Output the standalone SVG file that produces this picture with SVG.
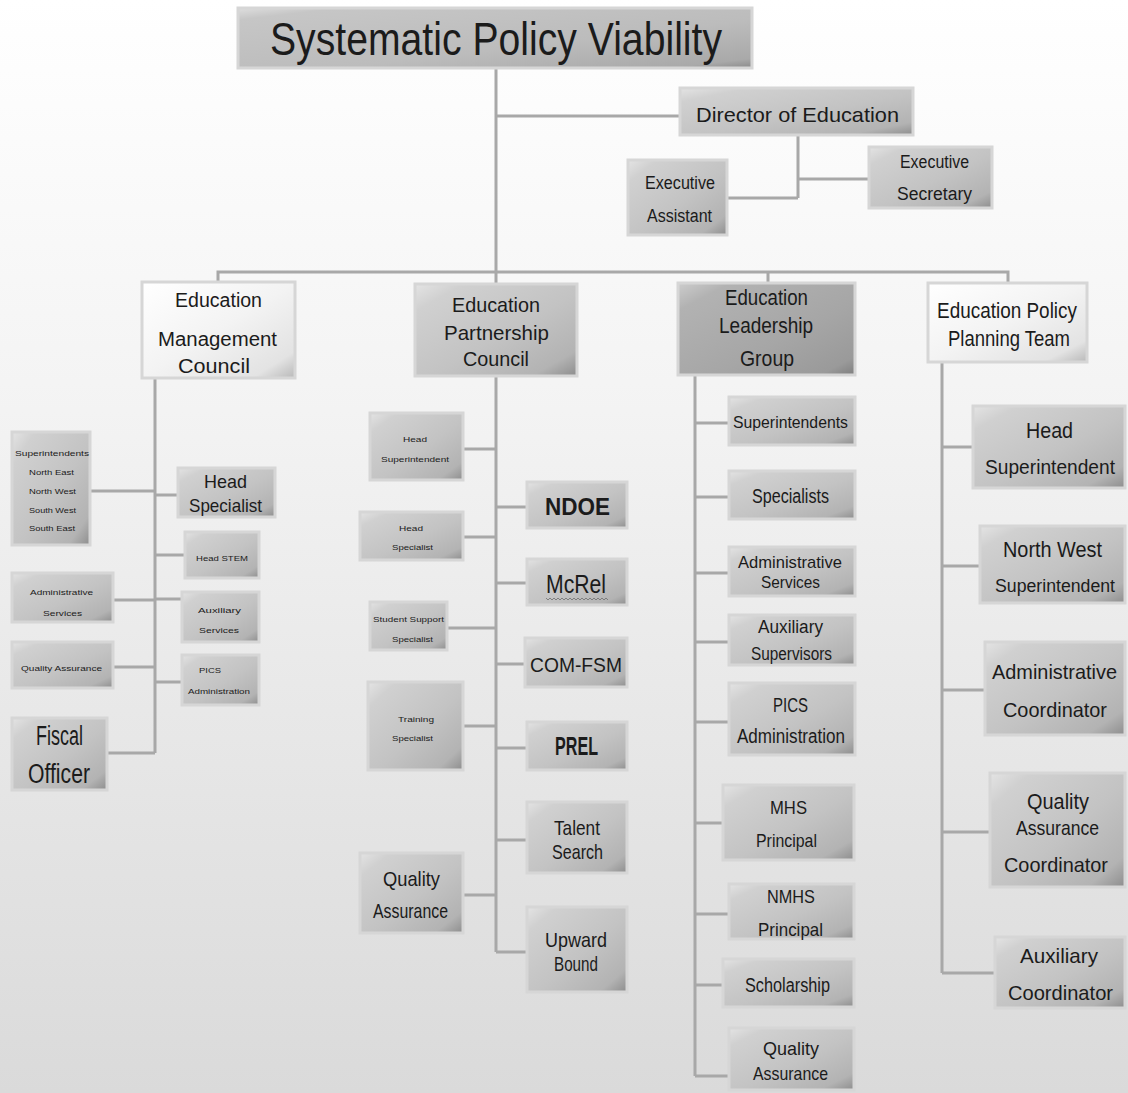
<svg xmlns="http://www.w3.org/2000/svg" width="1128" height="1093" viewBox="0 0 1128 1093">
<style>
.b{stroke:#d6d6d6;stroke-width:3}
.m{fill:url(#gm)}
.l{fill:url(#gl)}
.d{fill:url(#gd)}
.t{fill:url(#gt)}
text{font-family:"Liberation Sans",Arial,sans-serif;fill:#1b1b1b}
.bold{font-weight:bold}
#connectors path{fill:none;stroke:#a8a8a8;stroke-width:3}
</style>
<defs>
<linearGradient id="bg" x1="0" y1="0" x2="0" y2="1">
<stop offset="0" stop-color="#ffffff"/>
<stop offset="0.35" stop-color="#f4f4f4"/>
<stop offset="1" stop-color="#dadada"/>
</linearGradient>
<linearGradient id="gm" x1="0" y1="0" x2="1" y2="1">
<stop offset="0" stop-color="#e4e4e4"/>
<stop offset="0.15" stop-color="#d0d0d0"/>
<stop offset="0.55" stop-color="#c3c3c3"/>
<stop offset="0.86" stop-color="#b3b3b3"/>
<stop offset="0.93" stop-color="#a0a0a0"/>
<stop offset="1" stop-color="#8c8c8c"/>
</linearGradient>
<linearGradient id="gl" x1="0" y1="0" x2="1" y2="1">
<stop offset="0" stop-color="#ffffff"/>
<stop offset="0.5" stop-color="#f3f3f3"/>
<stop offset="0.86" stop-color="#e3e3e3"/>
<stop offset="1" stop-color="#b8b8b8"/>
</linearGradient>
<linearGradient id="gd" x1="0" y1="0" x2="1" y2="1">
<stop offset="0" stop-color="#cdcdcd"/>
<stop offset="0.15" stop-color="#b2b2b2"/>
<stop offset="0.6" stop-color="#a6a6a6"/>
<stop offset="0.9" stop-color="#9a9a9a"/>
<stop offset="1" stop-color="#7e7e7e"/>
</linearGradient>
<linearGradient id="gt" x1="0" y1="0" x2="1" y2="1">
<stop offset="0" stop-color="#dedede"/>
<stop offset="0.1" stop-color="#c6c6c6"/>
<stop offset="0.6" stop-color="#bcbcbc"/>
<stop offset="0.92" stop-color="#a9a9a9"/>
<stop offset="1" stop-color="#8a8a8a"/>
</linearGradient>
</defs>
<rect x="0" y="0" width="1128" height="1093" fill="url(#bg)"/>

<g id="connectors">
<path d="M496,68 V952"/>
<path d="M496,116 H680"/>
<path d="M798,135 V198 M798,179 H869 M727,198 H798"/>
<path d="M218,282 V272 H1008 V283 M768,272 V283"/>
<path d="M155,378 V753 M90,491 H155 M155,495 H178 M155,555 H185 M113,600 H155 M155,599 H182 M113,667 H155 M155,682 H182 M107,753 H155"/>
<path d="M463,449 H496 M496,507 H527 M463,537 H496 M496,583 H527 M447,628 H496 M496,664 H525 M463,726 H496 M496,748 H527 M496,840 H527 M463,895 H496 M496,952 H527"/>
<path d="M695,375 V1076 M695,423 H729 M695,497 H729 M695,573 H729 M695,642 H729 M695,722 H729 M695,823 H723 M695,914 H729 M695,985 H723 M695,1076 H729"/>
<path d="M942,362 V973 M942,447 H973 M942,566 H980 M942,690 H985 M942,832 H990 M942,973 H995"/>
</g>

<g id="title"><rect class="b t" x="238" y="8" width="514" height="60"/><text x="270" y="55" font-size="47" textLength="452" lengthAdjust="spacingAndGlyphs">Systematic Policy Viability</text></g>
<g id="director"><rect class="b m" x="680" y="88" width="233" height="47"/><text x="696" y="122" font-size="21" textLength="203" lengthAdjust="spacingAndGlyphs">Director of Education</text></g>
<g id="exec-assistant"><rect class="b m" x="628" y="160" width="99" height="75"/><text x="645" y="189" font-size="18" textLength="70" lengthAdjust="spacingAndGlyphs">Executive</text><text x="647" y="222" font-size="18" textLength="65" lengthAdjust="spacingAndGlyphs">Assistant</text></g>
<g id="exec-secretary"><rect class="b m" x="869" y="147" width="123" height="61"/><text x="900" y="168" font-size="18" textLength="69" lengthAdjust="spacingAndGlyphs">Executive</text><text x="897" y="200" font-size="18" textLength="75" lengthAdjust="spacingAndGlyphs">Secretary</text></g>

<g id="emc"><rect class="b l" x="142" y="282" width="153" height="96"/><text x="175" y="307" font-size="20" textLength="87" lengthAdjust="spacingAndGlyphs">Education</text><text x="158" y="346" font-size="20" textLength="119" lengthAdjust="spacingAndGlyphs">Management</text><text x="178" y="373" font-size="20" textLength="72" lengthAdjust="spacingAndGlyphs">Council</text></g>
<g id="epc"><rect class="b m" x="415" y="284" width="162" height="92"/><text x="452" y="312" font-size="21" textLength="88" lengthAdjust="spacingAndGlyphs">Education</text><text x="444" y="340" font-size="21" textLength="105" lengthAdjust="spacingAndGlyphs">Partnership</text><text x="463" y="366" font-size="21" textLength="66" lengthAdjust="spacingAndGlyphs">Council</text></g>
<g id="elg"><rect class="b d" x="678" y="283" width="177" height="92"/><text x="725" y="305" font-size="22" textLength="83" lengthAdjust="spacingAndGlyphs">Education</text><text x="719" y="333" font-size="22" textLength="94" lengthAdjust="spacingAndGlyphs">Leadership</text><text x="740" y="366" font-size="22" textLength="54" lengthAdjust="spacingAndGlyphs">Group</text></g>
<g id="eppt"><rect class="b l" x="928" y="283" width="159" height="79"/><text x="937" y="318" font-size="22" textLength="140" lengthAdjust="spacingAndGlyphs">Education Policy</text><text x="948" y="346" font-size="22" textLength="122" lengthAdjust="spacingAndGlyphs">Planning Team</text></g>

<g id="emc-superintendents"><rect class="b m" x="12" y="432" width="78" height="113"/><text x="15" y="456" font-size="8" textLength="74" lengthAdjust="spacingAndGlyphs">Superintendents</text><text x="29" y="475" font-size="8" textLength="45" lengthAdjust="spacingAndGlyphs">North East</text><text x="29" y="494" font-size="8" textLength="47" lengthAdjust="spacingAndGlyphs">North West</text><text x="29" y="513" font-size="8" textLength="47" lengthAdjust="spacingAndGlyphs">South West</text><text x="29" y="531" font-size="8" textLength="46" lengthAdjust="spacingAndGlyphs">South East</text></g>
<g id="emc-head-specialist"><rect class="b m" x="178" y="468" width="97" height="49"/><text x="204" y="488" font-size="19" textLength="43" lengthAdjust="spacingAndGlyphs">Head</text><text x="189" y="512" font-size="19" textLength="73" lengthAdjust="spacingAndGlyphs">Specialist</text></g>
<g id="emc-head-stem"><rect class="b m" x="185" y="532" width="74" height="46"/><text x="196" y="561" font-size="8" textLength="52" lengthAdjust="spacingAndGlyphs">Head STEM</text></g>
<g id="emc-admin"><rect class="b m" x="12" y="573" width="101" height="49"/><text x="30" y="595" font-size="8" textLength="63" lengthAdjust="spacingAndGlyphs">Administrative</text><text x="43" y="616" font-size="8" textLength="39" lengthAdjust="spacingAndGlyphs">Services</text></g>
<g id="emc-aux"><rect class="b m" x="182" y="592" width="77" height="50"/><text x="198" y="613" font-size="8" textLength="43" lengthAdjust="spacingAndGlyphs">Auxiliary</text><text x="199" y="633" font-size="8" textLength="40" lengthAdjust="spacingAndGlyphs">Services</text></g>
<g id="emc-qa"><rect class="b m" x="12" y="642" width="101" height="46"/><text x="21" y="671" font-size="8" textLength="81" lengthAdjust="spacingAndGlyphs">Quality Assurance</text></g>
<g id="emc-pics"><rect class="b m" x="182" y="655" width="77" height="50"/><text x="199" y="673" font-size="8" textLength="22" lengthAdjust="spacingAndGlyphs">PICS</text><text x="188" y="694" font-size="8" textLength="62" lengthAdjust="spacingAndGlyphs">Administration</text></g>
<g id="emc-fiscal"><rect class="b m" x="12" y="718" width="95" height="72"/><text x="36" y="745" font-size="27" textLength="47" lengthAdjust="spacingAndGlyphs">Fiscal</text><text x="28" y="783" font-size="27" textLength="62" lengthAdjust="spacingAndGlyphs">Officer</text></g>

<g id="epc-head-sup"><rect class="b m" x="370" y="413" width="93" height="67"/><text x="403" y="442" font-size="8" textLength="24" lengthAdjust="spacingAndGlyphs">Head</text><text x="381" y="462" font-size="8" textLength="68" lengthAdjust="spacingAndGlyphs">Superintendent</text></g>
<g id="epc-ndoe"><rect class="b m" x="527" y="482" width="100" height="46"/><text class="bold" x="545" y="515" font-size="24" textLength="65" lengthAdjust="spacingAndGlyphs">NDOE</text></g>
<g id="epc-head-spec"><rect class="b m" x="360" y="512" width="103" height="48"/><text x="399" y="531" font-size="8" textLength="24" lengthAdjust="spacingAndGlyphs">Head</text><text x="392" y="550" font-size="8" textLength="41" lengthAdjust="spacingAndGlyphs">Specialist</text></g>
<g id="epc-mcrel"><rect class="b m" x="527" y="559" width="100" height="46"/><text x="546" y="593" font-size="25" textLength="60" lengthAdjust="spacingAndGlyphs">McRel</text><polyline points="546,598 548,600 550,598 552,600 554,598 556,600 558,598 560,600 562,598 564,600 566,598 568,600 570,598 572,600 574,598 576,600 578,598 580,600 582,598 584,600 586,598 588,600 590,598 592,600 594,598 596,600 598,598 600,600 602,598 604,600 606,598 608,600" fill="none" stroke="#6f6f6f" stroke-width="0.8"/></g>
<g id="epc-sss"><rect class="b m" x="370" y="602" width="77" height="48"/><text x="373" y="622" font-size="8" textLength="71" lengthAdjust="spacingAndGlyphs">Student Support</text><text x="392" y="642" font-size="8" textLength="41" lengthAdjust="spacingAndGlyphs">Specialist</text></g>
<g id="epc-comfsm"><rect class="b m" x="525" y="638" width="102" height="49"/><text x="530" y="672" font-size="21" textLength="92" lengthAdjust="spacingAndGlyphs">COM-FSM</text></g>
<g id="epc-training"><rect class="b m" x="368" y="682" width="95" height="88"/><text x="398" y="722" font-size="8" textLength="36" lengthAdjust="spacingAndGlyphs">Training</text><text x="392" y="741" font-size="8" textLength="41" lengthAdjust="spacingAndGlyphs">Specialist</text></g>
<g id="epc-prel"><rect class="b m" x="527" y="722" width="100" height="48"/><text class="bold" x="555" y="755" font-size="25" textLength="43" lengthAdjust="spacingAndGlyphs">PREL</text></g>
<g id="epc-talent"><rect class="b m" x="527" y="802" width="100" height="71"/><text x="554" y="835" font-size="21" textLength="46" lengthAdjust="spacingAndGlyphs">Talent</text><text x="552" y="859" font-size="21" textLength="51" lengthAdjust="spacingAndGlyphs">Search</text></g>
<g id="epc-qa"><rect class="b m" x="360" y="853" width="103" height="80"/><text x="383" y="886" font-size="21" textLength="57" lengthAdjust="spacingAndGlyphs">Quality</text><text x="373" y="918" font-size="21" textLength="75" lengthAdjust="spacingAndGlyphs">Assurance</text></g>
<g id="epc-upward"><rect class="b m" x="527" y="907" width="100" height="85"/><text x="545" y="947" font-size="21" textLength="62" lengthAdjust="spacingAndGlyphs">Upward</text><text x="554" y="971" font-size="21" textLength="44" lengthAdjust="spacingAndGlyphs">Bound</text></g>

<g id="elg-supts"><rect class="b m" x="729" y="397" width="126" height="48"/><text x="733" y="428" font-size="17" textLength="115" lengthAdjust="spacingAndGlyphs">Superintendents</text></g>
<g id="elg-specs"><rect class="b m" x="729" y="471" width="126" height="48"/><text x="752" y="503" font-size="20" textLength="77" lengthAdjust="spacingAndGlyphs">Specialists</text></g>
<g id="elg-admin"><rect class="b m" x="729" y="547" width="126" height="49"/><text x="738" y="568" font-size="17" textLength="104" lengthAdjust="spacingAndGlyphs">Administrative</text><text x="761" y="588" font-size="17" textLength="59" lengthAdjust="spacingAndGlyphs">Services</text></g>
<g id="elg-aux"><rect class="b m" x="729" y="615" width="126" height="50"/><text x="758" y="633" font-size="18" textLength="65" lengthAdjust="spacingAndGlyphs">Auxiliary</text><text x="751" y="660" font-size="18" textLength="81" lengthAdjust="spacingAndGlyphs">Supervisors</text></g>
<g id="elg-pics"><rect class="b m" x="729" y="683" width="126" height="72"/><text x="773" y="712" font-size="20" textLength="35" lengthAdjust="spacingAndGlyphs">PICS</text><text x="737" y="743" font-size="20" textLength="108" lengthAdjust="spacingAndGlyphs">Administration</text></g>
<g id="elg-mhs"><rect class="b m" x="723" y="785" width="131" height="75"/><text x="770" y="814" font-size="19" textLength="37" lengthAdjust="spacingAndGlyphs">MHS</text><text x="756" y="847" font-size="19" textLength="61" lengthAdjust="spacingAndGlyphs">Principal</text></g>
<g id="elg-nmhs"><rect class="b m" x="729" y="884" width="125" height="55"/><text x="767" y="903" font-size="19" textLength="48" lengthAdjust="spacingAndGlyphs">NMHS</text><text x="758" y="936" font-size="19" textLength="65" lengthAdjust="spacingAndGlyphs">Principal</text></g>
<g id="elg-scholarship"><rect class="b m" x="723" y="959" width="131" height="48"/><text x="745" y="992" font-size="20" textLength="85" lengthAdjust="spacingAndGlyphs">Scholarship</text></g>
<g id="elg-qa"><rect class="b m" x="729" y="1028" width="125" height="62"/><text x="763" y="1055" font-size="19" textLength="56" lengthAdjust="spacingAndGlyphs">Quality</text><text x="753" y="1080" font-size="19" textLength="75" lengthAdjust="spacingAndGlyphs">Assurance</text></g>

<g id="eppt-head-sup"><rect class="b m" x="973" y="406" width="152" height="82"/><text x="1026" y="438" font-size="22" textLength="47" lengthAdjust="spacingAndGlyphs">Head</text><text x="985" y="474" font-size="20" textLength="130" lengthAdjust="spacingAndGlyphs">Superintendent</text></g>
<g id="eppt-nw-sup"><rect class="b m" x="980" y="526" width="145" height="77"/><text x="1003" y="557" font-size="22" textLength="99" lengthAdjust="spacingAndGlyphs">North West</text><text x="995" y="592" font-size="18" textLength="120" lengthAdjust="spacingAndGlyphs">Superintendent</text></g>
<g id="eppt-admin"><rect class="b m" x="985" y="642" width="140" height="93"/><text x="992" y="679" font-size="21" textLength="125" lengthAdjust="spacingAndGlyphs">Administrative</text><text x="1003" y="717" font-size="21" textLength="104" lengthAdjust="spacingAndGlyphs">Coordinator</text></g>
<g id="eppt-qa"><rect class="b m" x="990" y="773" width="135" height="114"/><text x="1027" y="809" font-size="22" textLength="62" lengthAdjust="spacingAndGlyphs">Quality</text><text x="1016" y="835" font-size="21" textLength="83" lengthAdjust="spacingAndGlyphs">Assurance</text><text x="1004" y="872" font-size="21" textLength="104" lengthAdjust="spacingAndGlyphs">Coordinator</text></g>
<g id="eppt-aux"><rect class="b m" x="995" y="937" width="130" height="71"/><text x="1020" y="963" font-size="21" textLength="78" lengthAdjust="spacingAndGlyphs">Auxiliary</text><text x="1008" y="1000" font-size="21" textLength="105" lengthAdjust="spacingAndGlyphs">Coordinator</text></g>
</svg>
